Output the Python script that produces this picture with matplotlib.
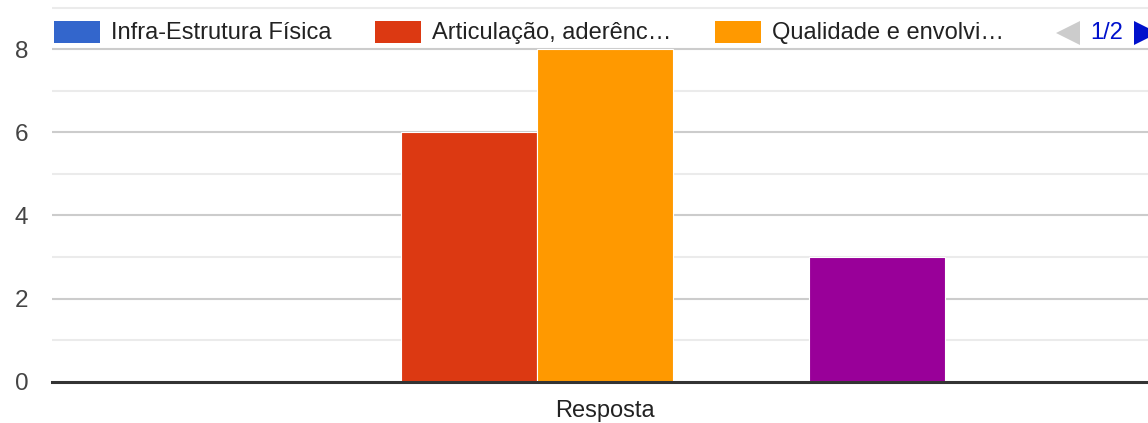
import matplotlib
matplotlib.use("Agg")
import matplotlib.pyplot as plt
from matplotlib.patches import Rectangle, Polygon

# data (one category, five series; legend page 1 shows the first three)
category = "Resposta"
series_values = [0, 6, 8, 0, 3]
series_colors = ["#3366cc", "#dc3912", "#ff9900", "#109618", "#990099"]
legend_labels = ["Infra-Estrutura Física", "Articulação, aderênc…", "Qualidade e envolvi…"]
y_ticks = [0, 2, 4, 6, 8]
page_text = "1/2"

W, H = 1148, 423
plt.rcParams["font.family"] = ["Liberation Sans", "DejaVu Sans"]
fig = plt.figure(figsize=(W / 100, H / 100), dpi=100)

# axes placed in pixel terms: left edge 52px, baseline at y=381.5px, top at 0
ax = fig.add_axes([52 / W, (H - 381.5) / H, 1 - 52 / W, 381.5 / H])
bw = 0.2
n = len(series_values)
for i, (v, c) in enumerate(zip(series_values, series_colors)):
    ax.bar((i - (n - 1) / 2) * bw, v, width=bw, color=c, edgecolor="white",
           linewidth=0.8, zorder=3)

ax.set_xlim(-(605 - 52) / 680, (1148 - 605) / 680)
ax.set_ylim(0, 381.5 / 41.5)
for g in range(1, 10):
    ax.axhline(g, color="#cccccc" if g % 2 == 0 else "#ebebeb", lw=1.5, zorder=1)
ax.axhline(0, color="#333333", lw=2.2, zorder=4, clip_on=False)

for s in ax.spines.values():
    s.set_visible(False)
ax.set_yticks(y_ticks)
ax.set_yticklabels([str(t) for t in y_ticks], fontsize=17.5, color="#444444")
ax.tick_params(axis="y", length=0, pad=17)
ax.set_xticks([0])
ax.set_xticklabels([category], fontsize=17, color="#222222")
ax.tick_params(axis="x", length=0, pad=13)

# legend strip (page 1 of 2)
def py(y):
    return 1 - y / H

fig.patches.append(Rectangle((47 / W, py(44)), 1101 / W, 28 / H, transform=fig.transFigure,
                             facecolor="white", edgecolor="none", zorder=5))
swatch_x = [54, 375, 715]
for x0, lab, c in zip(swatch_x, legend_labels, series_colors):
    fig.patches.append(Rectangle((x0 / W, py(43)), 46 / W, 22 / H, transform=fig.transFigure,
                                 facecolor=c, edgecolor="none", zorder=6))
    fig.text((x0 + 57) / W, py(33), lab, fontsize=17, color="#222222",
             va="center", ha="left", zorder=7)

fig.patches.append(Polygon([[1080 / W, py(21)], [1080 / W, py(45)], [1056 / W, py(33)]],
                           closed=True, transform=fig.transFigure,
                           facecolor="#cccccc", edgecolor="none", zorder=6))
fig.text(1107 / W, py(33), page_text, fontsize=17, color="#0011cc",
         va="center", ha="center", zorder=7)
fig.patches.append(Polygon([[1134 / W, py(21)], [1134 / W, py(45)], [1158 / W, py(33)]],
                           closed=True, transform=fig.transFigure,
                           facecolor="#0011cc", edgecolor="none", zorder=6))

fig.savefig("out.png", dpi=100)
